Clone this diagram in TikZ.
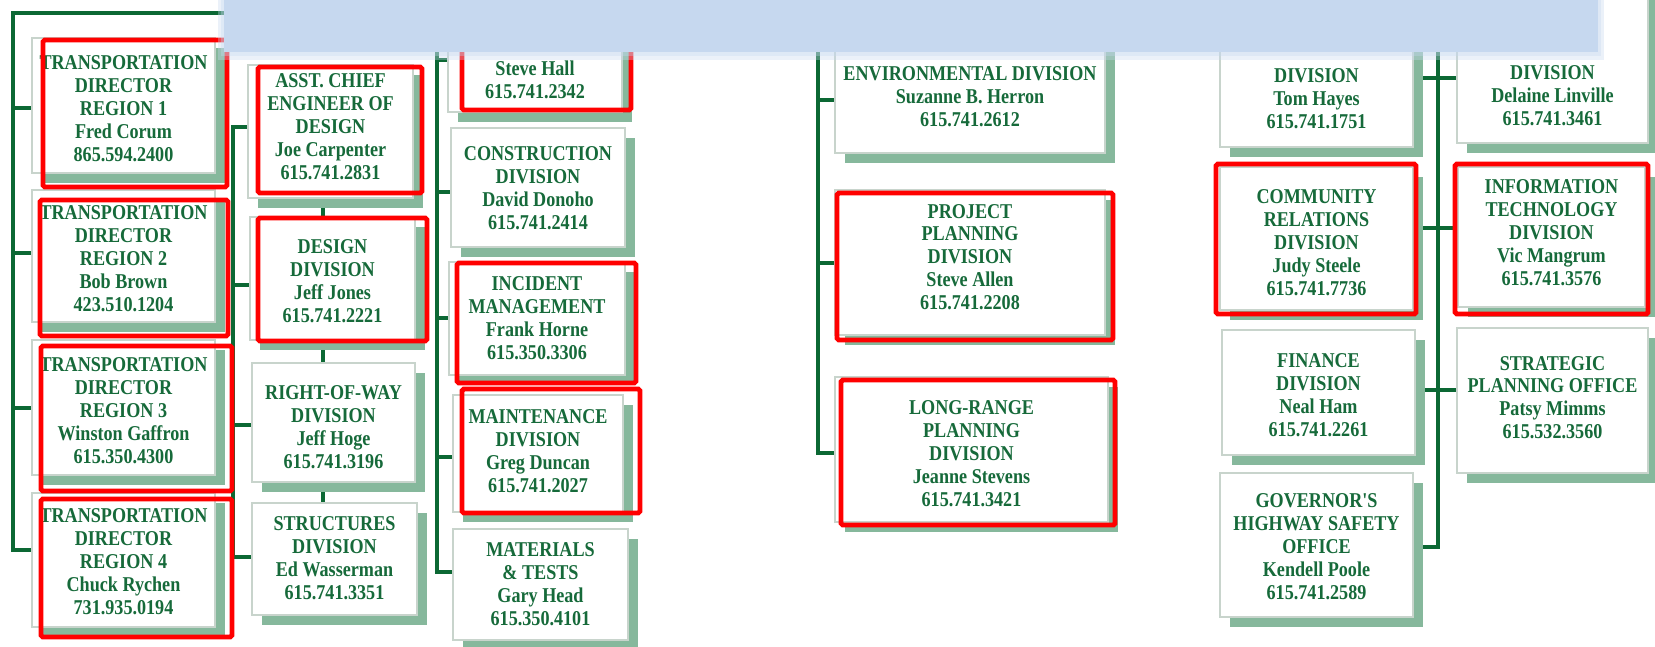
\documentclass[tikz,border=0pt]{standalone}
\usepackage{fontspec}
\newfontfamily\orgfont[FakeStretch=0.86]{Liberation Serif}
\usetikzlibrary{fit,shadows}
\definecolor{lineg}{RGB}{12,104,52}
\definecolor{textg}{RGB}{22,106,58}
\definecolor{shadg}{RGB}{134,184,156}
\definecolor{bordg}{RGB}{200,212,204}
\definecolor{bann}{RGB}{198,216,239}
\pgfdeclarelayer{bg}\pgfdeclarelayer{fg}\pgfsetlayers{bg,main,fg}
\tikzset{
 conn/.style={draw=lineg, line width=1.8pt},
 orgbox/.style={draw=bordg, line width=0.8pt, fill=white, inner sep=0pt,
   drop shadow={shadow xshift=0.2cm, shadow yshift=-0.2cm, fill=shadg, opacity=1}},
 orgtxt/.style={text=textg, font=\orgfont\bfseries\fontsize{12}{13}\selectfont, align=center, inner sep=0pt},
 hilite/.style={draw=red, line width=2.8pt, rounded corners=1pt},
}
\begin{document}
\begin{tikzpicture}[x=0.02cm,y=-0.02cm]
\useasboundingbox (0,0) rectangle (1655,646);
% ---------- boxes ----------
\node[orgbox, fit={(32,38) (215,173)}] (r1) {};
\node[orgbox, fit={(32,190) (215,322)}] (r2) {};
\node[orgbox, fit={(32,340) (215,475)}] (r3) {};
\node[orgbox, fit={(32,493) (215,627)}] (r4) {};
\node[orgbox, fit={(248,65) (413,198)}] (asst) {};
\node[orgbox, fit={(250,217) (415,340)}] (design) {};
\node[orgbox, fit={(252,363) (415,482)}] (row) {};
\node[orgbox, fit={(252,503) (417,615)}] (struct) {};
\node[orgbox, fit={(448,15) (622,112)}] (steve) {};
\node[orgbox, fit={(451,128) (625,247)}] (constr) {};
\node[orgbox, fit={(449,262) (625,375)}] (incid) {};
\node[orgbox, fit={(453,395) (623,512)}] (maint) {};
\node[orgbox, fit={(453,529) (628,640)}] (mater) {};
\node[orgbox, fit={(835,35) (1105,153)}] (env) {};
\node[orgbox, fit={(835,190) (1105,335)}] (proj) {};
\node[orgbox, fit={(835,377) (1108,522)}] (longr) {};
\node[orgbox, fit={(1220,10) (1413,147)}] (tom) {};
\node[orgbox, fit={(1457,-20) (1648,143)}] (del) {};
\node[orgbox, fit={(1220,167) (1413,310)}] (comm) {};
\node[orgbox, fit={(1458,167) (1645,307)}] (it) {};
\node[orgbox, fit={(1222,330) (1415,455)}] (fin) {};
\node[orgbox, fit={(1457,328) (1648,473)}] (strat) {};
\node[orgbox, fit={(1220,473) (1413,617)}] (gov) {};
% ---------- texts ----------
\node[orgtxt] (r1t) at (r1.center |- 0,108.5) {TRANSPORTATION\\DIRECTOR\\REGION 1\\Fred Corum\\865.594.2400};
\node[orgtxt] (r2t) at (r2.center |- 0,258.5) {TRANSPORTATION\\DIRECTOR\\REGION 2\\Bob Brown\\423.510.1204};
\node[orgtxt] (r3t) at (r3.center |- 0,410.5) {TRANSPORTATION\\DIRECTOR\\REGION 3\\Winston Gaffron\\615.350.4300};
\node[orgtxt] (r4t) at (r4.center |- 0,561.5) {TRANSPORTATION\\DIRECTOR\\REGION 4\\Chuck Rychen\\731.935.0194};
\node[orgtxt] (asstt) at (asst.center |- 0,126.5) {ASST. CHIEF\\ENGINEER OF\\DESIGN\\Joe Carpenter\\615.741.2831};
\node[orgtxt] (designt) at (design.center |- 0,281) {DESIGN\\DIVISION\\Jeff Jones\\615.741.2221};
\node[orgtxt] (rowt) at (row.center |- 0,427) {RIGHT-OF-WAY\\DIVISION\\Jeff Hoge\\615.741.3196};
\node[orgtxt] (structt) at (struct.center |- 0,558) {STRUCTURES\\DIVISION\\Ed Wasserman\\615.741.3351};
\node[orgtxt] (stevet) at (steve.center |- 0,79.5) {Steve Hall\\615.741.2342};
\node[orgtxt] (constrt) at (constr.center |- 0,188) {CONSTRUCTION\\DIVISION\\David Donoho\\615.741.2414};
\node[orgtxt] (incidt) at (incid.center |- 0,318) {INCIDENT\\MANAGEMENT\\Frank Horne\\615.350.3306};
\node[orgtxt] (maintt) at (maint.center |- 0,451) {MAINTENANCE\\DIVISION\\Greg Duncan\\615.741.2027};
\node[orgtxt] (matert) at (mater.center |- 0,584) {MATERIALS\\\& TESTS\\Gary Head\\615.350.4101};
\node[orgtxt] (envt) at (env.center |- 0,96.5) {ENVIRONMENTAL DIVISION\\Suzanne B. Herron\\615.741.2612};
\node[orgtxt] (projt) at (proj.center |- 0,257) {PROJECT\\PLANNING\\DIVISION\\Steve Allen\\615.741.2208};
\node[orgtxt] (longrt) at (longr.center |- 0,453.5) {LONG-RANGE\\PLANNING\\DIVISION\\Jeanne Stevens\\615.741.3421};
\node[orgtxt] (tomt) at (tom.center |- 0,98.5) {DIVISION\\Tom Hayes\\615.741.1751};
\node[orgtxt] (delt) at (del.center |- 0,96) {DIVISION\\Delaine Linville\\615.741.3461};
\node[orgtxt] (commt) at (comm.center |- 0,242.5) {COMMUNITY\\RELATIONS\\DIVISION\\Judy Steele\\615.741.7736};
\node[orgtxt] (itt) at (it.center |- 0,232.5) {INFORMATION\\TECHNOLOGY\\DIVISION\\Vic Mangrum\\615.741.3576};
\node[orgtxt] (fint) at (fin.center |- 0,395) {FINANCE\\DIVISION\\Neal Ham\\615.741.2261};
\node[orgtxt] (stratt) at (strat.center |- 0,397.5) {STRATEGIC\\PLANNING OFFICE\\Patsy Mimms\\615.532.3560};
\node[orgtxt] (govt) at (gov.center |- 0,546.5) {GOVERNOR'S\\HIGHWAY SAFETY\\OFFICE\\Kendell Poole\\615.741.2589};
% ---------- connectors ----------
\begin{pgfonlayer}{bg}
% trunk A
\coordinate (tAend) at (320,13);
\coordinate (tAtop) at (13,13);
\coordinate (jA1) at (13,108);
\coordinate (jA2) at (13,253);
\coordinate (jA3) at (13,408);
\coordinate (jA4) at (13,550);
\draw[conn] (tAend) -- (tAtop) -- (jA4) -- (r4.west |- jA4);
\draw[conn] (jA1) -- (r1.west |- jA1);
\draw[conn] (jA2) -- (r2.west |- jA2);
\draw[conn] (jA3) -- (r3.west |- jA3);
% trunk B
\coordinate (jB1) at (233,127);
\coordinate (jB2) at (233,285);
\coordinate (jB3) at (233,425);
\coordinate (jB4) at (233,557);
\draw[conn] (asst.west |- jB1) -- (jB1) -- (jB4) -- (struct.west |- jB4);
\draw[conn] (jB2) -- (design.west |- jB2);
\draw[conn] (jB3) -- (row.west |- jB3);
\coordinate (c2) at (323,0);
\draw[conn] (asst.south -| c2) -- (struct.north -| c2);
% trunk C
\coordinate (tCtop) at (437,30);
\coordinate (jC1) at (437,60);
\coordinate (jC2) at (437,192);
\coordinate (jC3) at (437,318);
\coordinate (jC4) at (437,457);
\coordinate (jC5) at (437,572);
\draw[conn] (tCtop) -- (jC5) -- (mater.west |- jC5);
\draw[conn] (jC1) -- (steve.west |- jC1);
\draw[conn] (jC2) -- (constr.west |- jC2);
\draw[conn] (jC3) -- (incid.west |- jC3);
\draw[conn] (jC4) -- (maint.west |- jC4);
% trunk D
\coordinate (tDtop) at (818,30);
\coordinate (jD1) at (818,100);
\coordinate (jD2) at (818,263);
\coordinate (jD3) at (818,453);
\draw[conn] (tDtop) -- (jD3) -- (longr.west |- jD3);
\draw[conn] (jD1) -- (env.west |- jD1);
\draw[conn] (jD2) -- (proj.west |- jD2);
% trunk E
\coordinate (tEtop) at (1438,30);
\coordinate (jE1) at (1438,78);
\coordinate (jE2) at (1438,228);
\coordinate (jE3) at (1438,390);
\coordinate (jE4) at (1438,547);
\draw[conn] (tEtop) -- (jE4) -- (gov.east |- jE4);
\draw[conn] (tom.east |- jE1) -- (del.west |- jE1);
\draw[conn] (comm.east |- jE2) -- (it.west |- jE2);
\draw[conn] (fin.east |- jE3) -- (strat.west |- jE3);
\end{pgfonlayer}
% ---------- highlights and banner ----------
\begin{pgfonlayer}{fg}
\draw[hilite] (43,40) rectangle (227,187);
\draw[hilite] (40,200) rectangle (228,336);
\draw[hilite] (41,346) rectangle (232,491);
\draw[hilite] (41,499) rectangle (232,637);
\draw[hilite] (258,67) rectangle (422,193);
\draw[hilite] (258,218) rectangle (427,341);
\draw[hilite] (462,30) rectangle (631,110);
\draw[hilite] (457,263) rectangle (636,383);
\draw[hilite] (462,389) rectangle (640,513);
\draw[hilite] (837,193) rectangle (1113,340);
\draw[hilite] (841,380) rectangle (1115,525);
\draw[hilite] (1216,164) rectangle (1416,314);
\draw[hilite] (1455,164) rectangle (1648,314);
\fill[bann, opacity=0.35] (218,-5) rectangle (1604,60);
\fill[bann, opacity=0.35] (221,-5) rectangle (1601,56);
\fill[bann] (224,-5) rectangle (1598,52);
\end{pgfonlayer}
\end{tikzpicture}
\end{document}
